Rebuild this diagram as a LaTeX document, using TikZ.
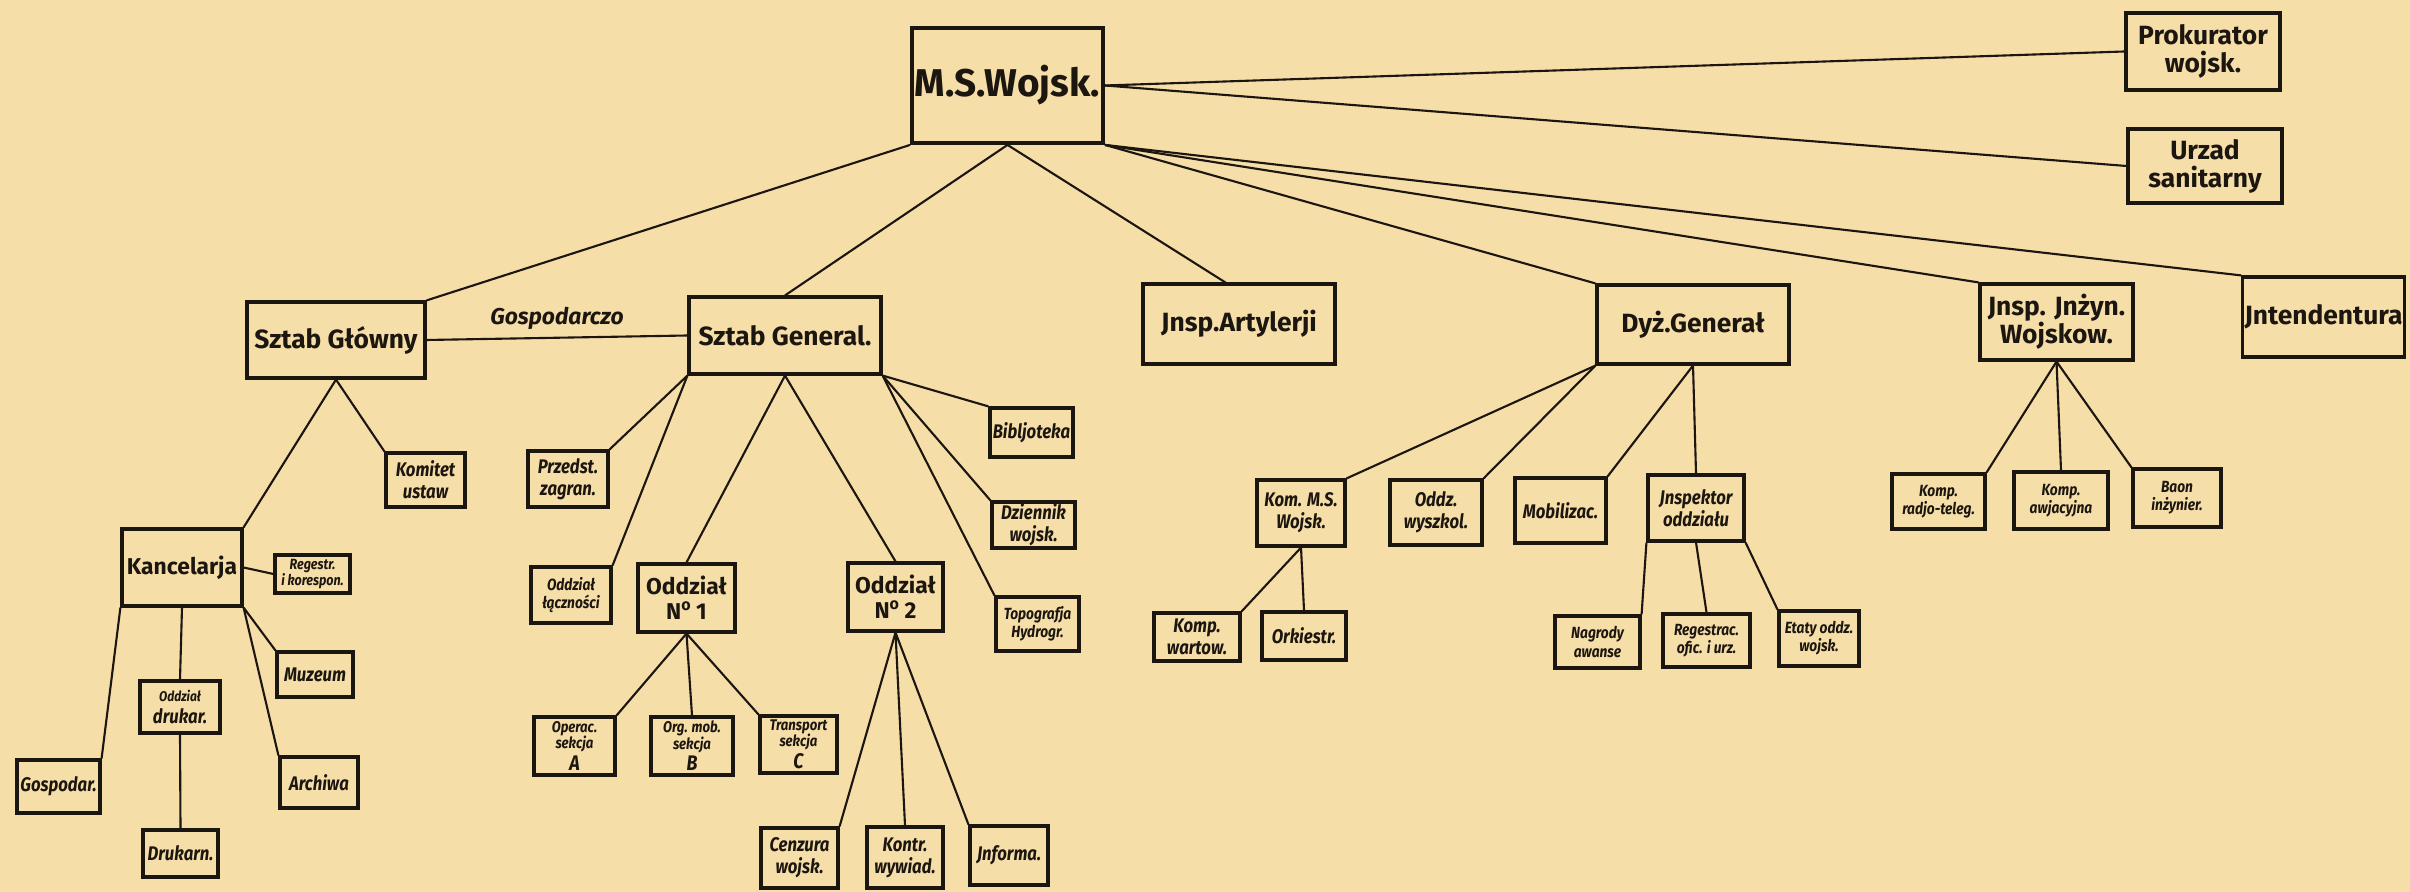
\documentclass[tikz,border=0pt]{standalone}
\usepackage{fontspec}
\setmainfont{Fira Sans}
\newfontfamily\narrowf{Fira Sans}[FakeStretch=0.85]
\usetikzlibrary{calc}
\definecolor{paper}{RGB}{246,222,168}
\definecolor{ink}{RGB}{28,22,16}
\newcommand\bx[7][]{\node[box,#1,minimum width={(#5-#3)*0.01cm},minimum height={(#6-#4)*0.01cm}] (#2) at ({(#3+#5)/2},{(#4+#6)/2}) {#7};}
\begin{document}
\begin{tikzpicture}[x=0.01cm,y=-0.01cm,
  box/.style={draw=ink,line width=0.9pt,inner sep=0.5pt,align=center,text=ink},
  conn/.style={draw=ink,line width=0.6pt},
  big/.style={font=\fontsize{11}{12}\selectfont\bfseries},
  main/.style={font=\fontsize{7.5}{8}\selectfont\bfseries},
  mid/.style={font=\fontsize{6.5}{7}\selectfont\bfseries},
  sm/.style={font=\narrowf\fontsize{5.6}{6.2}\selectfont\bfseries\itshape},
  xs/.style={font=\narrowf\fontsize{4.6}{5.2}\selectfont\bfseries\itshape},
  sek/.style={font=\narrowf\fontsize{4.4}{4.7}\selectfont\bfseries\itshape},
  xxs/.style={font=\narrowf\fontsize{4.2}{4.8}\selectfont\bfseries\itshape},
  lbl/.style={font=\fontsize{6.5}{7}\selectfont\bfseries\itshape,text=ink,inner sep=1pt}]
\fill[paper] (0,0) rectangle (2410,892);
\useasboundingbox (0,0) rectangle (2410,892);
% top
\bx[big,line width=1.1pt]{msw}{912}{28}{1103}{143}{M.S.Wojsk.}
\bx[main]{prok}{2126}{13}{2280}{90}{Prokurator\\wojsk.}
\bx[main]{urz}{2128}{129}{2282}{203}{Urzad\\sanitarny}
% level 1
\bx[main]{sglow}{247}{302}{425}{378}{Sztab Główny}
\bx[main]{sgen}{689}{297}{881}{374}{Sztab General.}
\bx[main]{art}{1143}{284}{1335}{364}{Jnsp.Artylerji}
\bx[main]{dyz}{1597}{285}{1789}{364}{Dyż.Generał}
\bx[main]{jinz}{1980}{284}{2133}{360}{Jnsp. Jnżyn.\\Wojskow.}
\bx[main]{intd}{2246}{277}{2401}{357}{Jntendentura}
% Sztab Glowny branch
\bx[sm]{kom}{386}{453}{465}{507}{Komitet\\ustaw}
\bx[mid]{kanc}{122}{529}{242}{606}{Kancelarja}
\bx[xxs]{reg}{275}{555}{350}{593}{Regestr.\\i korespon.}
\bx[sm]{muz}{277}{652}{353}{697}{Muzeum}
\bx[sm]{arch}{280}{757}{358}{808}{Archiwa}
\bx[sm]{odr}{140}{681}{220}{733}{{\fontsize{4}{4.6}\selectfont Oddział}\\drukar.}
\bx[sm]{drk}{143}{830}{218}{877}{Drukarn.}
\bx[sm]{gosp}{17}{760}{100}{813}{Gospodar.}
% Sztab General branch
\bx[sm]{prz}{528}{451}{608}{507}{Przedst.\\zagran.}
\bx[xs]{lacz}{531}{567}{611}{623}{Oddział\\łączności}
\bx[mid]{n1}{638}{564}{735}{632}{Oddział\\N\textsuperscript{o}\,1}
\bx[mid]{n2}{848}{563}{943}{631}{Oddział\\N\textsuperscript{o}\,2}
\bx[sm]{bib}{990}{408}{1073}{457}{Bibljoteka}
\bx[sm]{dzi}{992}{502}{1075}{548}{Dziennik\\wojsk.}
\bx[xs]{topo}{996}{597}{1079}{651}{Topografja\\Hydrogr.}
\bx[sek]{opa}{534}{717}{615}{775}{Operac.\\sekcja\\{\fontsize{6}{6}\selectfont A}}
\bx[sek]{orgb}{651}{717}{733}{775}{Org. mob.\\sekcja\\{\fontsize{6}{6}\selectfont B}}
\bx[sek]{trc}{760}{716}{837}{773}{Transport\\sekcja\\{\fontsize{6}{6}\selectfont C}}
\bx[sm]{cen}{761}{828}{838}{888}{Cenzura\\wojsk.}
\bx[sm]{kon}{867}{827}{943}{888}{Kontr.\\wywiad.}
\bx[sm]{inf}{970}{826}{1048}{885}{Jnforma.}
% Dyz branch
\bx[sm]{kms}{1257}{480}{1345}{546}{Kom. M.S.\\Wojsk.}
\bx[sm]{wysz}{1390}{480}{1482}{545}{Oddz.\\wyszkol.}
\bx[sm]{mob}{1515}{478}{1606}{543}{Mobilizac.}
\bx[sm]{insp}{1648}{475}{1744}{541}{Jnspektor\\oddziału}
\bx[sm]{kwar}{1154}{613}{1240}{661}{Komp.\\wartow.}
\bx[sm]{ork}{1262}{612}{1346}{660}{Orkiestr.}
\bx[xs]{nag}{1555}{616}{1640}{668}{Nagrody\\awanse}
\bx[xs]{regu}{1663}{614}{1750}{667}{Regestrac.\\ofic. i urz.}
\bx[xs]{eta}{1779}{611}{1859}{666}{Etaty oddz.\\wojsk.}
% Jnsp Jnzyn branch
\bx[xs]{kr}{1892}{474}{1985}{529}{Komp.\\radjo-teleg.}
\bx[xs]{kaw}{2014}{472}{2108}{529}{Komp.\\awjacyjna}
\bx[xs]{baon}{2133}{469}{2221}{527}{Baon\\inżynier.}
% connectors from M.S.Wojsk
\draw[conn] (msw.east) -- (prok.west);
\draw[conn] (msw.east) -- (urz.west);
\draw[conn] (msw.south west) -- (sglow.north east);
\draw[conn] (msw.south) -- (sgen.north);
\draw[conn] (msw.south) -- ($(art.north west)!0.43!(art.north east)$);
\draw[conn] (msw.south east) -- (dyz.north west);
\draw[conn] (msw.south east) -- (jinz.north west);
\draw[conn] (msw.south east) -- (intd.north west);
% Sztab Glowny
\draw[conn] (sglow.east) -- node[midway,above=1pt,lbl]{Gospodarczo} (sgen.west);
\draw[conn] (sglow.south) -- (kom.north west);
\draw[conn] (sglow.south) -- (kanc.north east);
\draw[conn] (kanc.east) -- (reg.west);
\draw[conn] (kanc.south west) -- (gosp.north east);
\draw[conn] (kanc.south) -- (odr.north);
\draw[conn] (odr.south) -- (drk.north);
\draw[conn] (kanc.south east) -- (muz.north west);
\draw[conn] (kanc.south east) -- (arch.north west);
% Sztab General
\draw[conn] (sgen.south west) -- (prz.north east);
\draw[conn] (sgen.south west) -- (lacz.north east);
\draw[conn] (sgen.south) -- (n1.north);
\draw[conn] (sgen.south) -- (n2.north);
\draw[conn] (sgen.south east) -- (bib.north west);
\draw[conn] (sgen.south east) -- (dzi.north west);
\draw[conn] (sgen.south east) -- (topo.north west);
\draw[conn] (n1.south) -- (opa.north east);
\draw[conn] (n1.south) -- (orgb.north);
\draw[conn] (n1.south) -- (trc.north west);
\draw[conn] (n2.south) -- (cen.north east);
\draw[conn] (n2.south) -- (kon.north);
\draw[conn] (n2.south) -- (inf.north west);
% Dyz
\draw[conn] (dyz.south west) -- (kms.north east);
\draw[conn] (dyz.south west) -- (wysz.north east);
\draw[conn] (dyz.south) -- (mob.north east);
\draw[conn] (dyz.south) -- (insp.north);
\draw[conn] (kms.south) -- (kwar.north east);
\draw[conn] (kms.south) -- (ork.north);
\draw[conn] (insp.south west) -- (nag.north east);
\draw[conn] (insp.south) -- (regu.north);
\draw[conn] (insp.south east) -- (eta.north west);
% Jnsp Jnzyn
\draw[conn] (jinz.south) -- (kr.north east);
\draw[conn] (jinz.south) -- (kaw.north);
\draw[conn] (jinz.south) -- (baon.north west);
\end{tikzpicture}
\end{document}
